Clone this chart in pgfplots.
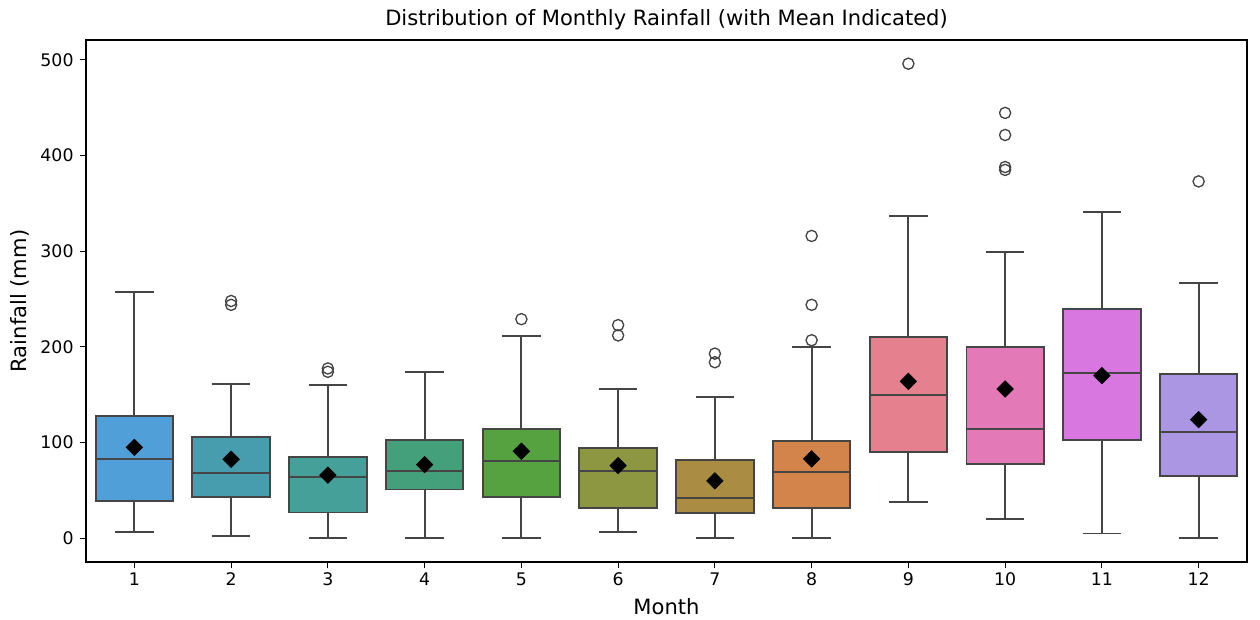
\documentclass[border=0pt]{standalone}
\usepackage{pgfplots}
\pgfplotsset{compat=1.18}
\usepackage{fontspec}
\setmainfont{DejaVu Sans}
\definecolor{edge}{HTML}{454545}
\definecolor{c1}{HTML}{509FD9}
\definecolor{c2}{HTML}{479DAE}
\definecolor{c3}{HTML}{45A09A}
\definecolor{c4}{HTML}{43A07B}
\definecolor{c5}{HTML}{56A140}
\definecolor{c6}{HTML}{8D9641}
\definecolor{c7}{HTML}{AA8D42}
\definecolor{c8}{HTML}{D3844A}
\definecolor{c9}{HTML}{E5808F}
\definecolor{c10}{HTML}{E479B8}
\definecolor{c11}{HTML}{D977E0}
\definecolor{c12}{HTML}{AA96E3}
% \bx{position}{lower whisker}{lower quartile}{median}{upper quartile}{upper whisker}{colour}
\newcommand\bx[7]{%
  \pgfmathsetmacro\xa{#1-0.4}\pgfmathsetmacro\xb{#1+0.4}%
  \pgfmathsetmacro\ca{#1-0.2}\pgfmathsetmacro\cb{#1+0.2}%
  \edef\tmp{\noexpand\addplot[draw=edge, line width=1.4pt] coordinates {(#1,#5) (#1,#6) (#1,nan) (\ca,#6) (\cb,#6) (\cb,nan) (#1,#3) (#1,#2) (#1,nan) (\ca,#2) (\cb,#2)};}\tmp
  \edef\tmp{\noexpand\addplot[fill=#7, draw=edge, line width=1.4pt] coordinates {(\xa,#3) (\xb,#3) (\xb,#5) (\xa,#5)} -- cycle;}\tmp
  \edef\tmp{\noexpand\addplot[draw=edge, line width=1.4pt] coordinates {(\xa,#4) (\xb,#4)};}\tmp
}
\begin{document}
\begin{tikzpicture}
\begin{axis}[
  scale only axis, width=870.75pt, height=391.5pt,
  xmin=0.5, xmax=12.5, ymin=-24.8, ymax=520.8,
  xtick={1,...,12}, ytick={0,100,200,300,400,500},
  tick align=outside, tick pos=left,
  major tick length=4.8pt,
  every tick/.style={black, line width=0.8pt},
  axis line style={line width=0.8pt},
  tick label style={font=\fontsize{13}{15}\selectfont},
  yticklabel style={xshift=-1pt},
  /pgf/number format/assume math mode=true,
  xlabel={Month}, ylabel={Rainfall (mm)},
  label style={font=\fontsize{15.8}{18}\selectfont},
  xlabel style={at={(axis description cs:0.5,-0.0862)}, anchor=center},
  ylabel style={at={(axis description cs:-0.0568,0.5)}, anchor=center},
  every axis title shift=0pt,
  title={Distribution of Monthly Rainfall (with Mean Indicated)},
  title style={font=\fontsize{15.8}{18}\selectfont, at={(axis description cs:0.5,1.0383)}, anchor=center},
  unbounded coords=jump,
]
\bx{1}{7}{39}{82.6}{127.6}{257}{c1}
\bx{2}{2}{43}{68}{105.6}{161}{c2}
\bx{3}{0}{27}{63.8}{84.7}{160}{c3}
\bx{4}{0}{51}{70}{102.5}{174}{c4}
\bx{5}{0}{43}{80.6}{114}{211}{c5}
\bx{6}{7}{32}{70}{94}{156}{c6}
\bx{7}{0}{26}{42}{82}{148}{c7}
\bx{8}{0}{32}{69}{102}{200}{c8}
\bx{9}{37.7}{90}{149.6}{210}{337}{c9}
\bx{10}{20}{78}{114}{199.6}{299}{c10}
\bx{11}{5}{102.5}{172.6}{240}{341}{c11}
\bx{12}{0}{65}{111}{171.5}{267}{c12}
% outliers
\addplot[only marks, mark=o, mark size=4.2pt, mark options={draw=edge, line width=1pt}] coordinates {
(2,244) (2,248) (3,174) (3,177.5) (5,229) (6,212) (6,222.8) (7,184) (7,193)
(8,207) (8,244) (8,316) (9,496) (10,385) (10,388) (10,421.5) (10,444.6) (12,373)};
% means
\addplot[only marks, mark=square*, mark size=4.4pt, mark options={rotate=45, fill=black, draw=black}] coordinates {
(1,95) (2,82.6) (3,66) (4,77) (5,91) (6,76) (7,60) (8,83) (9,164) (10,156) (11,170) (12,124)};
\end{axis}
\path (current axis.south west) ++(-64.5pt,-42.75pt) coordinate (bl);
\path (current axis.north east) ++(9.75pt,30pt) coordinate (tr);
\useasboundingbox (bl) rectangle (tr);
\end{tikzpicture}
\end{document}
